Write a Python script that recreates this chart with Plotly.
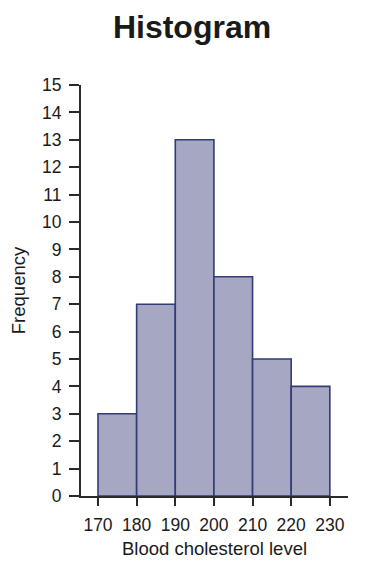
import plotly.graph_objects as go

bin_starts = [170, 180, 190, 200, 210, 220]
bin_width = 10
frequencies = [3, 7, 13, 8, 5, 4]
x_ticks = [170, 180, 190, 200, 210, 220, 230]
y_ticks = list(range(0, 16))

centers = [s + bin_width / 2 for s in bin_starts]

fig = go.Figure(go.Bar(
    x=centers, y=frequencies, width=[bin_width] * len(centers),
    marker=dict(color="rgb(165,167,195)", line=dict(color="rgb(50,60,118)", width=1.6)),
))

font = "Liberation Sans, Arial, sans-serif"
fig.update_layout(
    width=369, height=568,
    margin=dict(l=81, r=21, t=85, b=72),
    paper_bgcolor="white", plot_bgcolor="white",
    showlegend=False,
    font=dict(family=font, color="#1a1a1a", size=17),
    title=dict(text="<b>Histogram</b>", x=192/369, xanchor="center", xref="container",
               y=1 - 27/568, yanchor="middle", yref="container",
               font=dict(size=32, color="#1a1a1a", family=font)),
)
fig.update_xaxes(
    range=[165.6, 234.7], tickvals=x_ticks, ticktext=[str(v) for v in x_ticks],
    showline=True, linecolor="#2a2a2a", linewidth=2, ticks="outside", ticklen=8,
    tickcolor="#2a2a2a", tickwidth=2, showgrid=False, zeroline=False,
    title=dict(text="Blood cholesterol level", font=dict(size=18.5), standoff=8),
    tickfont=dict(size=17.5), ticklabelstandoff=4,
)
fig.update_yaxes(
    range=[0, 15], tickvals=y_ticks, showline=True, linecolor="#2a2a2a", linewidth=2,
    ticks="outside", ticklen=10, tickcolor="#2a2a2a", tickwidth=2, showgrid=False,
    zeroline=False, title=dict(text="Frequency", font=dict(size=18.5), standoff=12),
    tickfont=dict(size=17.5), ticklabelstandoff=4,
)
fig.write_html("out.html")
